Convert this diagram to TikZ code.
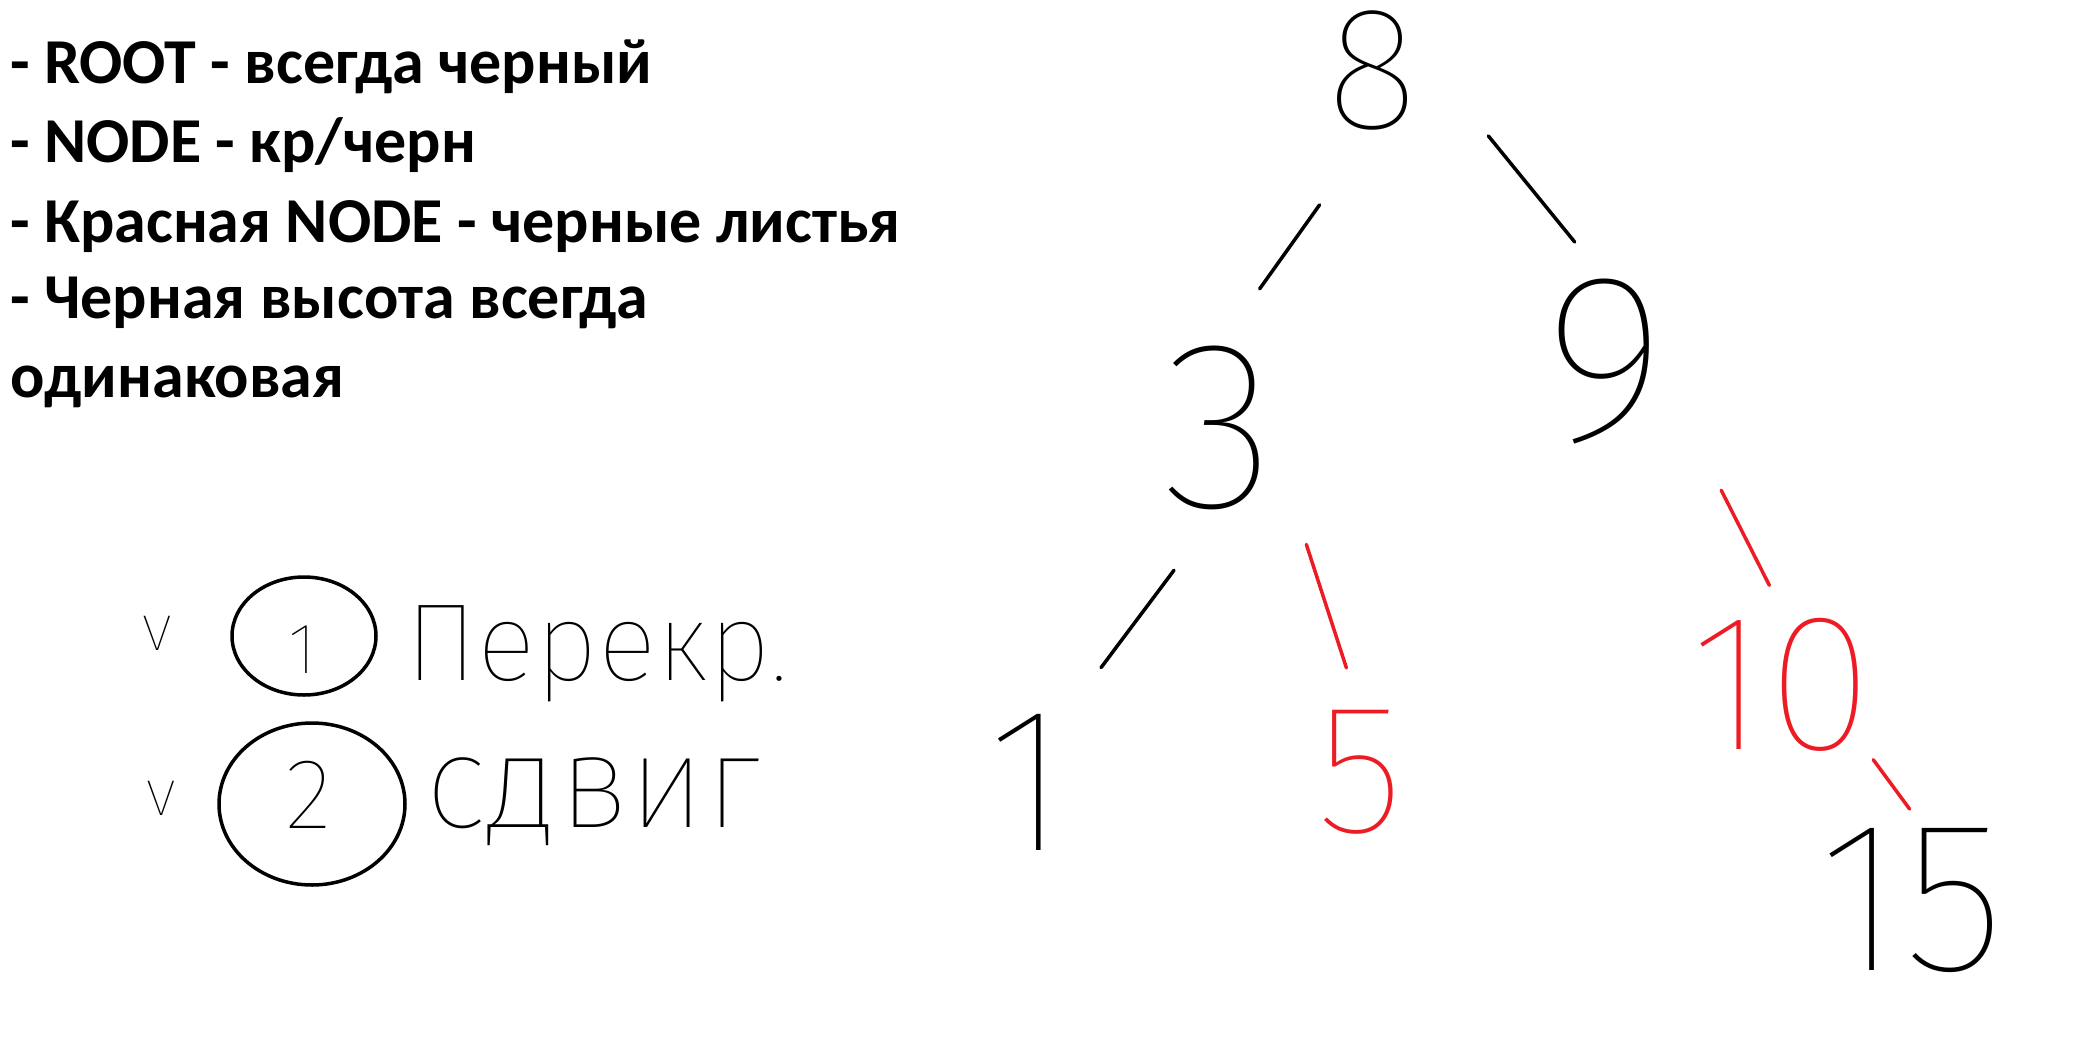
\documentclass[tikz,border=0pt]{standalone}
\usepackage{fontspec}
\usetikzlibrary{shapes.geometric}
\setmainfont{Carlito}
\newfontfamily\handfont{Fira Sans Thin}
\definecolor{paintred}{RGB}{237,28,36}

\tikzset{
  rule/.style={font=\bfseries\fontsize{64}{76}\selectfont, anchor=base west, inner sep=0pt},
  digit/.style={font=\handfont\fontsize{#1}{#1}\selectfont, inner sep=0pt},
  hand/.style={line width=3.5pt, line cap=round},
  ring/.style={draw, ellipse, line width=3.5pt, inner sep=0pt},
}

\begin{document}
\begin{tikzpicture}[x=1pt,y=-1pt]
\useasboundingbox (0,0) rectangle (2083,1044);
% rules
\node[rule] (r1) at (10,83) {- ROOT - всегда черный};
\node[rule] (r2) at (10,162) {- NODE - кр/черн};
\node[rule] (r3) at (10,242) {- Красная NODE - черные листья};
\node[rule] (r4) at (10,318) {- Черная высота всегда};
\node[rule] (r5) at (10,397) {одинаковая};
% cases
\node[digit=66, anchor=base] (v1) at (157,650) {v};
\node[digit=66, anchor=base] (v2) at (161,815) {v};
\node[ring, minimum width=144, minimum height=118] (c1) at (304,636) {};
\node[digit=72] (d1) at (303,650) {1};
\node[ring, minimum width=186, minimum height=162] (c2) at (312,804) {};
\node[digit=100] (d2) at (309,795) {2};
\node[digit=110, anchor=base west] (t1) at (405,680) {Перекр.};
\node[digit=132, anchor=base west] (t2) at (425,827) {сдвиг};
% tree
\node[digit=175, minimum width=123, minimum height=118] (n8) at (1373,70) {8};
\node[digit=240, minimum width=152, minimum height=158] (n3) at (1219,428) {3};
\node[digit=240, minimum width=186, minimum height=159] (n9) at (1605,362) {9};
\node[digit=206, minimum width=77, minimum height=142] (n1) at (1028,782) {1};
\node[digit=185, text=paintred, minimum width=155, minimum height=123] (n5) at (1360,772) {5};
\node[digit=195, text=paintred, minimum width=168, minimum height=149] (n10) at (1782,685) {10};
\node[digit=215, minimum width=183, minimum height=177] (n15) at (1912,901) {15};
\draw[hand, shorten <=92pt, shorten >=70pt] (n8.south) -- (n3.north);
\draw[hand, shorten <=85pt, shorten >=48pt] (n8.east) -- (n9.north);
\draw[hand, shorten <=75pt, shorten >=54pt] (n3.south) -- (n1.north east);
\draw[hand, paintred, shorten <=36pt, shorten >=44pt] (n3.south east) -- (n5.north);
\draw[hand, paintred, shorten <=51pt, shorten >=28pt] (n9.south east) -- (n10.north);
\draw[hand, paintred, shorten >=4pt] (n10.south east) -- (n15.north);
\end{tikzpicture}
\end{document}
